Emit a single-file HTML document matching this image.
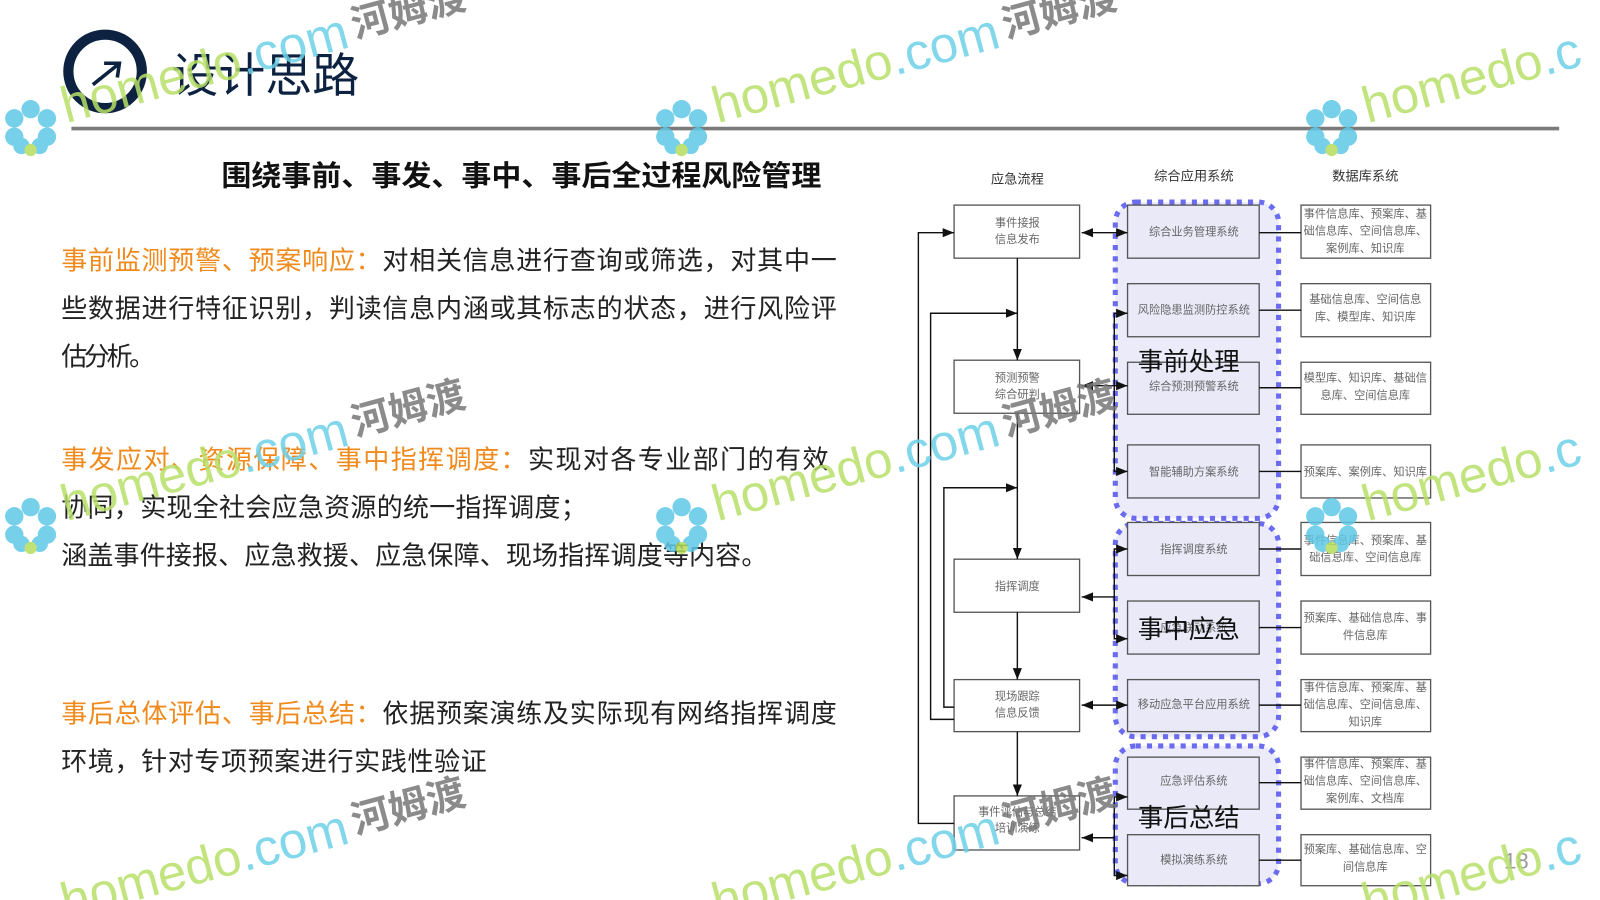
<!DOCTYPE html>
<html><head><meta charset="utf-8"><style>
html,body{margin:0;padding:0;background:#fff;width:1600px;height:900px;overflow:hidden}
svg{display:block}
text{font-family:"Liberation Sans","Noto Sans CJK SC",sans-serif}
</style></head><body>
<svg width="1600" height="900" viewBox="0 0 1568 882" xmlns="http://www.w3.org/2000/svg">
<defs>
<marker id="a" viewBox="0 0 10 10" refX="10" refY="5" markerWidth="8" markerHeight="8" orient="auto-start-reverse"><path d="M0,1 L10,5 L0,9 z" fill="#111"/></marker>
</defs>
<rect width="1568" height="882" fill="#fff"/>
<!-- header -->
<circle cx="103" cy="70" r="36" fill="none" stroke="#0d2240" stroke-width="10"/>
<path d="M91,83 L116,63 M102,62 L117,62 L115,76" fill="none" stroke="#0d2240" stroke-width="3.5"/>
<text x="168" y="90" font-size="46" fill="#0d2240">设计思路</text>
<line x1="70" y1="126" x2="1528" y2="126" stroke="#7a7a7a" stroke-width="3.5"/>
<text x="217" y="182" font-size="28" font-weight="bold" fill="#111" textLength="588" lengthAdjust="spacingAndGlyphs">围绕事前、事发、事中、事后全过程风险管理</text>
<!-- paragraphs -->
<g font-size="25.5" fill="#222">
<text x="60" y="264" textLength="760"><tspan fill="#f08a1c">事前监测预警、预案响应：</tspan>对相关信息进行查询或筛选，对其中一</text>
<text x="60" y="311" textLength="760">些数据进行特征识别，判读信息内涵或其标志的状态，进行风险评</text>
<text x="60" y="358" textLength="92">估分析。</text>
<text x="60" y="459" textLength="752"><tspan fill="#f08a1c">事发应对、资源保障、事中指挥调度：</tspan>实现对各专业部门的有效</text>
<text x="60" y="506" textLength="515">协同，实现全社会应急资源的统一指挥调度；</text>
<text x="60" y="553" textLength="692">涵盖事件接报、应急救援、应急保障、现场指挥调度等内容。</text>
<text x="60" y="708" textLength="760"><tspan fill="#f08a1c">事后总体评估、事后总结：</tspan>依据预案演练及实际现有网络指挥调度</text>
<text x="60" y="755" textLength="417">环境，针对专项预案进行实践性验证</text>
</g>
<!-- diagram -->
<g font-size="13" fill="#333" text-anchor="middle">
<text x="997" y="180">应急流程</text><text x="1170" y="177">综合应用系统</text><text x="1338" y="177">数据库系统</text>
</g>
<g fill="#ebebfa" stroke="#6b6bf0" stroke-width="5" stroke-dasharray="5,6">
<rect x="1093" y="198" width="160" height="310" rx="20"/>
<rect x="1093" y="513" width="160" height="209" rx="20"/>
<rect x="1093" y="731" width="160" height="135" rx="20"/>
</g>
<g fill="#fff" stroke="#555" stroke-width="1.3">
<rect x="935" y="201" width="123" height="52"/><rect x="935" y="353" width="123" height="52"/>
<rect x="935" y="548" width="123" height="52"/><rect x="935" y="666" width="123" height="51"/>
<rect x="935" y="780" width="123" height="53"/>
</g>
<g fill="#e9e9f8" stroke="#555" stroke-width="1.3">
<rect x="1105" y="201" width="129" height="52"/><rect x="1105" y="278" width="129" height="52"/>
<rect x="1105" y="355" width="129" height="51"/><rect x="1105" y="436" width="129" height="52"/>
<rect x="1105" y="512" width="129" height="52"/><rect x="1105" y="589" width="129" height="52"/>
<rect x="1105" y="666" width="129" height="51"/><rect x="1105" y="742" width="129" height="51"/>
<rect x="1105" y="818" width="129" height="50"/>
</g>
<g fill="#fff" stroke="#555" stroke-width="1.3">
<rect x="1275" y="201" width="127" height="52"/><rect x="1275" y="278" width="127" height="52"/>
<rect x="1275" y="355" width="127" height="51"/><rect x="1275" y="436" width="127" height="52"/>
<rect x="1275" y="512" width="127" height="52"/><rect x="1275" y="589" width="127" height="52"/>
<rect x="1275" y="666" width="127" height="51"/><rect x="1275" y="742" width="127" height="51"/>
<rect x="1275" y="818" width="127" height="50"/>
</g>
<g font-size="11" fill="#666" text-anchor="middle">
<text x="997" y="222">事件接报</text><text x="997" y="238">信息发布</text>
<text x="997" y="374">预测预警</text><text x="997" y="390">综合研判</text>
<text x="997" y="578">指挥调度</text>
<text x="997" y="686">现场跟踪</text><text x="997" y="702">信息反馈</text>
<text x="997" y="799">事件评估与总结</text><text x="997" y="815">培训演练</text>
<text x="1170" y="231">综合业务管理系统</text><text x="1170" y="307">风险隐患监测防控系统</text>
<text x="1170" y="382">综合预测预警系统</text><text x="1170" y="466">智能辅助方案系统</text>
<text x="1170" y="542">指挥调度系统</text><text x="1170" y="619">应急联动系统</text>
<text x="1170" y="694">移动应急平台应用系统</text><text x="1170" y="769">应急评估系统</text>
<text x="1170" y="846">模拟演练系统</text>
<text x="1338" y="213">事件信息库、预案库、基</text><text x="1338" y="230">础信息库、空间信息库、</text><text x="1338" y="247">案例库、知识库</text>
<text x="1338" y="297">基础信息库、空间信息</text><text x="1338" y="314">库、模型库、知识库</text>
<text x="1338" y="374">模型库、知识库、基础信</text><text x="1338" y="391">息库、空间信息库</text>
<text x="1338" y="466">预案库、案例库、知识库</text>
<text x="1338" y="533">事件信息库、预案库、基</text><text x="1338" y="550">础信息库、空间信息库</text>
<text x="1338" y="609">预案库、基础信息库、事</text><text x="1338" y="626">件信息库</text>
<text x="1338" y="677">事件信息库、预案库、基</text><text x="1338" y="694">础信息库、空间信息库、</text><text x="1338" y="711">知识库</text>
<text x="1338" y="752">事件信息库、预案库、基</text><text x="1338" y="769">础信息库、空间信息库、</text><text x="1338" y="786">案例库、文档库</text>
<text x="1338" y="836">预案库、基础信息库、空</text><text x="1338" y="853">间信息库</text>
</g>
<g stroke="#111" stroke-width="1.4" fill="none">
<line x1="997" y1="253" x2="997" y2="353" marker-end="url(#a)"/>
<line x1="997" y1="405" x2="997" y2="548" marker-end="url(#a)"/>
<line x1="997" y1="600" x2="997" y2="666" marker-end="url(#a)"/>
<line x1="997" y1="717" x2="997" y2="780" marker-end="url(#a)"/>
<polyline points="935,807 900,807 900,228 935,228" marker-end="url(#a)"/>
<polyline points="935,705 912,705 912,307 997,307" marker-end="url(#a)"/>
<polyline points="935,693 925,693 925,478 997,478" marker-end="url(#a)"/>
<line x1="1060" y1="228" x2="1105" y2="228" marker-start="url(#a)" marker-end="url(#a)"/>
<line x1="1060" y1="378" x2="1105" y2="378" marker-start="url(#a)" marker-end="url(#a)"/>
<polyline points="1105,307 1092,307 1092,462 1105,462" marker-start="url(#a)" marker-end="url(#a)"/>
<polyline points="1105,538 1092,538 1092,626 1105,626" marker-start="url(#a)" marker-end="url(#a)"/>
<line x1="1092" y1="585" x2="1060" y2="585" marker-end="url(#a)"/>
<line x1="1060" y1="691" x2="1105" y2="691" marker-start="url(#a)" marker-end="url(#a)"/>
<polyline points="1105,781 1092,781 1092,858 1105,858" marker-start="url(#a)" marker-end="url(#a)"/>
<line x1="1092" y1="821" x2="1060" y2="821" marker-end="url(#a)"/>
<path d="M1234,228H1275M1234,304H1275M1234,380H1275M1234,462H1275M1234,538H1275M1234,615H1275M1234,691H1275M1234,767H1275M1234,843H1275"/>
</g>
<g font-size="25" fill="#111">
<text x="1115" y="363">事前处理</text><text x="1115" y="625">事中应急</text><text x="1115" y="810">事后总结</text>
</g>
<text x="1486" y="851" font-size="22" fill="#999" text-anchor="middle">18</text>
<!-- watermarks -->
<g opacity="0.85">
<g transform="translate(30,125)">
<g fill="#5ec8e6"><circle cx="0" cy="-18" r="9"/><circle cx="16" cy="-9" r="9"/><circle cx="16" cy="9" r="9"/><circle cx="-16" cy="-9" r="9"/><circle cx="-16" cy="9" r="9"/><circle cx="9" cy="18" r="8"/><circle cx="-9" cy="18" r="8"/></g><circle cx="0" cy="22" r="6" fill="#b5dc5a"/>
<text x="35" y="5" font-size="50" fill="#b8e068" transform="rotate(-15)">homedo<tspan fill="#6cd0e8">.com</tspan></text>
<text x="330" y="-2" font-size="38" font-weight="bold" fill="#777" transform="rotate(-15)">河姆渡</text></g>
<g transform="translate(668,125)">
<g fill="#5ec8e6"><circle cx="0" cy="-18" r="9"/><circle cx="16" cy="-9" r="9"/><circle cx="16" cy="9" r="9"/><circle cx="-16" cy="-9" r="9"/><circle cx="-16" cy="9" r="9"/><circle cx="9" cy="18" r="8"/><circle cx="-9" cy="18" r="8"/></g><circle cx="0" cy="22" r="6" fill="#b5dc5a"/>
<text x="35" y="5" font-size="50" fill="#b8e068" transform="rotate(-15)">homedo<tspan fill="#6cd0e8">.com</tspan></text>
<text x="330" y="-2" font-size="38" font-weight="bold" fill="#777" transform="rotate(-15)">河姆渡</text></g>
<g transform="translate(1305,125)">
<g fill="#5ec8e6"><circle cx="0" cy="-18" r="9"/><circle cx="16" cy="-9" r="9"/><circle cx="16" cy="9" r="9"/><circle cx="-16" cy="-9" r="9"/><circle cx="-16" cy="9" r="9"/><circle cx="9" cy="18" r="8"/><circle cx="-9" cy="18" r="8"/></g><circle cx="0" cy="22" r="6" fill="#b5dc5a"/>
<text x="35" y="5" font-size="50" fill="#b8e068" transform="rotate(-15)">homedo<tspan fill="#6cd0e8">.c</tspan></text></g>
<g transform="translate(30,515)">
<g fill="#5ec8e6"><circle cx="0" cy="-18" r="9"/><circle cx="16" cy="-9" r="9"/><circle cx="16" cy="9" r="9"/><circle cx="-16" cy="-9" r="9"/><circle cx="-16" cy="9" r="9"/><circle cx="9" cy="18" r="8"/><circle cx="-9" cy="18" r="8"/></g><circle cx="0" cy="22" r="6" fill="#b5dc5a"/>
<text x="35" y="5" font-size="50" fill="#b8e068" transform="rotate(-15)">homedo<tspan fill="#6cd0e8">.com</tspan></text>
<text x="330" y="-2" font-size="38" font-weight="bold" fill="#777" transform="rotate(-15)">河姆渡</text></g>
<g transform="translate(668,515)">
<g fill="#5ec8e6"><circle cx="0" cy="-18" r="9"/><circle cx="16" cy="-9" r="9"/><circle cx="16" cy="9" r="9"/><circle cx="-16" cy="-9" r="9"/><circle cx="-16" cy="9" r="9"/><circle cx="9" cy="18" r="8"/><circle cx="-9" cy="18" r="8"/></g><circle cx="0" cy="22" r="6" fill="#b5dc5a"/>
<text x="35" y="5" font-size="50" fill="#b8e068" transform="rotate(-15)">homedo<tspan fill="#6cd0e8">.com</tspan></text>
<text x="330" y="-2" font-size="38" font-weight="bold" fill="#777" transform="rotate(-15)">河姆渡</text></g>
<g transform="translate(1305,515)">
<g fill="#5ec8e6"><circle cx="0" cy="-18" r="9"/><circle cx="16" cy="-9" r="9"/><circle cx="16" cy="9" r="9"/><circle cx="-16" cy="-9" r="9"/><circle cx="-16" cy="9" r="9"/><circle cx="9" cy="18" r="8"/><circle cx="-9" cy="18" r="8"/></g><circle cx="0" cy="22" r="6" fill="#b5dc5a"/>
<text x="35" y="5" font-size="50" fill="#b8e068" transform="rotate(-15)">homedo<tspan fill="#6cd0e8">.c</tspan></text></g>
<g transform="translate(30,905)">
<text x="35" y="5" font-size="50" fill="#b8e068" transform="rotate(-15)">homedo<tspan fill="#6cd0e8">.com</tspan></text>
<text x="330" y="-2" font-size="38" font-weight="bold" fill="#777" transform="rotate(-15)">河姆渡</text></g>
<g transform="translate(668,905)">
<text x="35" y="5" font-size="50" fill="#b8e068" transform="rotate(-15)">homedo<tspan fill="#6cd0e8">.com</tspan></text>
<text x="330" y="-2" font-size="38" font-weight="bold" fill="#777" transform="rotate(-15)">河姆渡</text></g>
<g transform="translate(1305,905)">
<text x="35" y="5" font-size="50" fill="#b8e068" transform="rotate(-15)">homedo<tspan fill="#6cd0e8">.c</tspan></text></g>
</g>
</svg>
</body></html>
